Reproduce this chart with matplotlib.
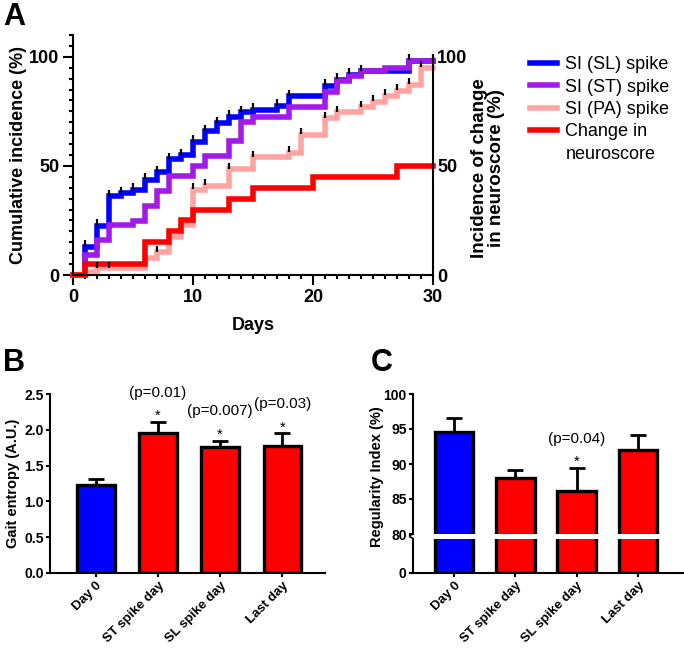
import matplotlib
matplotlib.use('Agg')
import matplotlib.pyplot as plt
import matplotlib.transforms as mtransforms
from matplotlib.lines import Line2D
import numpy as np

plt.rcParams['font.family'] = ['Liberation Sans', 'DejaVu Sans']
plt.rcParams['font.weight'] = 'bold'
plt.rcParams['axes.linewidth'] = 1.5

# ---- panel A: step curves (day, cumulative %) ----
sl_days = [0, 1, 2, 3, 4, 5, 6, 7, 8, 9, 10, 11, 12, 13, 14, 15, 17, 18, 21, 22, 23, 24, 28, 30]
sl_vals = [0, 13, 22.6, 36, 37.5, 39, 43.6, 47, 53, 55, 61, 66, 69.5, 72.6, 74.5, 75.7,
           77.5, 82, 86.7, 89.4, 91.7, 93.3, 98.3, 98.3]
st_days = [0, 1, 2, 3, 5, 6, 7, 8, 10, 11, 13, 14, 15, 18, 21, 22, 23, 24, 26, 28, 30]
st_vals = [0, 9.2, 16, 22.9, 24.9, 31.6, 38.7, 45.4, 50, 54.7, 61.2, 70.3, 72.6, 76.9,
           84, 88.7, 91, 93.3, 94.8, 98.3, 98.3]
pa_days = [0, 1, 2, 6, 7, 8, 9, 10, 11, 13, 15, 18, 19, 21, 22, 24, 25, 26, 27, 28, 29, 30]
pa_vals = [0, 1.3, 3, 7.6, 10.4, 17.6, 23, 39, 41, 48.5, 54, 56, 64.2, 71.9, 74.5, 76.9,
           79.5, 82.1, 84.4, 87.2, 95.1, 95.1]
ns_days = [0, 1, 6, 8, 9, 10, 13, 15, 20, 27, 30]
ns_vals = [0, 5, 15, 20, 25, 30, 35, 40, 45, 50, 50]

# censored observations (tick marks)
sl_censor = [1, 2, 3, 4, 5, 6, 7, 8, 9, 10, 11, 12, 13, 14, 15, 17, 18, 21, 22, 23, 24, 28, 30]
pa_censor = [2, 3, 7, 10, 11, 13, 15, 18, 19, 21, 22, 24, 25, 26, 27, 28, 29]

# ---- panel B ----
groups = ['Day 0', 'ST spike day', 'SL spike day', 'Last day']
entropy_mean = [1.23, 1.96, 1.76, 1.77]
entropy_sem = [0.08, 0.15, 0.09, 0.18]
entropy_p = [None, '(p=0.01)', '(p=0.007)', '(p=0.03)']

# ---- panel C ----
regularity_mean = [94.6, 88.0, 86.1, 92.0]
regularity_sem = [2.0, 1.1, 3.3, 2.1]
regularity_p = [None, None, '(p=0.04)', None]

bar_colors = ['#0000FF', '#FF0000', '#FF0000', '#FF0000']

W, H = 684, 649
fig = plt.figure(figsize=(W / 100, H / 100), dpi=100)


def px_rect(left, top, right, bottom):
    return [left / W, 1 - bottom / H, (right - left) / W, (bottom - top) / H]


def step_value(days, vals, d):
    idx = np.searchsorted(days, d, side='right') - 1
    return vals[idx]


def mark_bars(a, means, sems, labels):
    # asterisk and p-value above the error bar of each significant group
    for i, (m, e, p) in enumerate(zip(means, sems, labels)):
        if p is None:
            continue
        a.annotate('*', (i, m + e), xytext=(0, 1.5), textcoords='offset points',
                   ha='center', va='baseline', fontsize=10.5, fontweight='normal',
                   annotation_clip=False)
        a.annotate(p, (i, m + e), xytext=(0, 21), textcoords='offset points',
                   ha='center', va='center', fontsize=11, fontweight='normal',
                   annotation_clip=False)


# ================= Panel A =================
ax = fig.add_axes(px_rect(73, 35, 433, 275))
series = [
    (sl_days, sl_vals, '#0000FF', 'SI (SL) spike'),
    (st_days, st_vals, '#A21AE6', 'SI (ST) spike'),
    (pa_days, pa_vals, '#FFA3A3', 'SI (PA) spike'),
    (ns_days, ns_vals, '#FF0000', 'Change in'),
]
handles = []
for d, v, c, lab in series:
    h, = ax.step(d, v, where='post', color=c, lw=4, label=lab, solid_joinstyle='miter',
                 clip_on=False)
    handles.append(h)

up = mtransforms.offset_copy(ax.transData, fig=fig, x=0, y=2.5, units='points')
for days, vals, cens in [(sl_days, sl_vals, sl_censor), (pa_days, pa_vals, pa_censor)]:
    cy = [step_value(days, vals, c) for c in cens]
    ax.plot(cens, cy, ls='none', marker='|', ms=5, mew=1.6, color='black',
            transform=up, clip_on=False, zorder=5)

ax.set_xlim(0, 30)
ax.set_ylim(0, 110)
ax.spines['top'].set_visible(False)
ax.spines['right'].set_visible(False)
ax.set_xticks([0, 10, 20, 30])
ax.set_xticks(np.arange(0, 31, 1), minor=True)
ax.set_yticks([0, 50, 100])
ax.set_yticks(np.arange(0, 111, 5), minor=True)
ax.tick_params(which='major', length=7, width=1.5, labelsize=13, pad=3)
ax.tick_params(which='minor', length=3, width=1.5)
ax.set_xlabel('Days', fontsize=13, fontweight='bold', va='top')
ax.xaxis.set_label_coords(0.5, -0.175)
ax.set_ylabel('Cumulative incidence (%)', fontsize=13, fontweight='bold')
ax.yaxis.set_label_coords(-0.128, 0.5)

ax2 = ax.twinx()
ax2.set_ylim(0, 110)
ax2.set_yticks([0, 50, 100])
ax2.tick_params(length=0, labelsize=13, pad=3)
for s in ['top', 'left', 'bottom']:
    ax2.spines[s].set_visible(False)
ax2.spines['right'].set_bounds(0, 100)
fig.text(488 / W, 1 - 168 / H, 'Incidence of change\nin neuroscore (%)', rotation=90,
         ha='center', va='center', fontsize=13.5, fontweight='bold', multialignment='center',
         linespacing=1.05)

handles.append(Line2D([], [], color='none'))
fig.legend(handles=handles, labels=[s[3] for s in series] + ['neuroscore'],
           loc='upper left', bbox_to_anchor=(514 / W, 1 - 40 / H),
           frameon=False, handlelength=1.5, handletextpad=0.45,
           labelspacing=0.3, prop={'weight': 'normal', 'size': 13})

fig.text(3 / W, 1 - 2 / H, 'A', fontsize=22, fontweight='bold', va='top')
fig.text(3 / W, 1 - 348 / H, 'B', fontsize=22, fontweight='bold', va='top')
fig.text(371 / W, 1 - 348 / H, 'C', fontsize=22, fontweight='bold', va='top')

x = np.arange(len(groups))

# ================= Panel B =================
axb = fig.add_axes(px_rect(50, 394, 325, 573))
axb.bar(x, entropy_mean, width=0.6, color=bar_colors, edgecolor='black', linewidth=2.4,
        zorder=2)
axb.errorbar(x, entropy_mean, yerr=[np.zeros(4), entropy_sem], fmt='none', ecolor='black',
             elinewidth=2, capsize=6, capthick=2, zorder=1)
mark_bars(axb, entropy_mean, entropy_sem, entropy_p)
axb.set_xlim(-0.74, 3.69)
axb.set_ylim(0, 2.5)
axb.set_yticks(np.arange(0, 2.51, 0.5))
axb.yaxis.set_major_formatter(matplotlib.ticker.FormatStrFormatter('%.1f'))
axb.spines['top'].set_visible(False)
axb.spines['right'].set_visible(False)
axb.tick_params(length=3, width=1.5, labelsize=10, pad=1.5)
axb.set_xticks(x)
axb.set_xticklabels(groups, rotation=45, ha='right', rotation_mode='anchor', fontsize=9.5)
axb.set_ylabel('Gait entropy (A.U.)', fontsize=10.5, fontweight='bold', labelpad=3)

# ================= Panel C (broken axis) =================
axc = fig.add_axes(px_rect(413, 394, 684, 534))
axc0 = fig.add_axes(px_rect(413, 538.5, 684, 573))
for a in (axc, axc0):
    a.bar(x, regularity_mean, width=0.63, color=bar_colors, edgecolor='black',
          linewidth=2.4, zorder=2)
    a.set_xlim(-0.67, 3.75)
    a.spines['top'].set_visible(False)
    a.spines['right'].set_visible(False)
    a.tick_params(length=3, width=1.5, labelsize=10, pad=1.5)
axc.errorbar(x, regularity_mean, yerr=[np.zeros(4), regularity_sem], fmt='none',
             ecolor='black', elinewidth=2, capsize=6, capthick=2, zorder=1)
mark_bars(axc, regularity_mean, regularity_sem, regularity_p)
axc.set_ylim(80, 100)
axc.set_yticks([80, 85, 90, 95, 100])
axc.spines['bottom'].set_visible(False)
axc.tick_params(axis='x', bottom=False, labelbottom=False)
axc0.set_ylim(0, 80)
axc0.set_yticks([0])
axc0.set_xticks(x)
axc0.set_xticklabels(groups, rotation=45, ha='right', rotation_mode='anchor', fontsize=9.5)
# break marks on the y axis
axc.plot([-0.012, 0.0], [-0.01, 0.0], transform=axc.transAxes, color='black', lw=1.2,
         clip_on=False)
axc0.plot([-0.012, 0.0], [1.05, 1.0], transform=axc0.transAxes, color='black', lw=1.2,
          clip_on=False)
fig.text(377 / W, 1 - 477 / H, 'Regularity Index (%)', rotation=90, ha='center',
         va='center', fontsize=10.5, fontweight='bold')

fig.savefig('out.png', dpi=100)
